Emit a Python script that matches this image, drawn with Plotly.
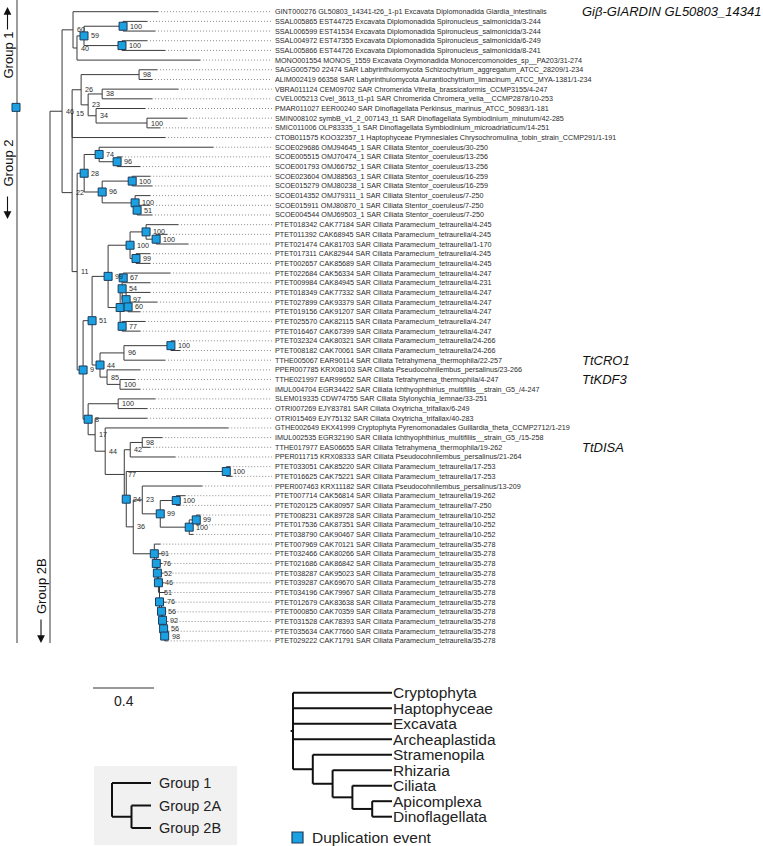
import plotly.graph_objects as go

# ---------------------------------------------------------------- data
leaf_labels = [
    "GINT000276 GL50803_14341-t26_1-p1 Excavata Diplomonadida Giardia_intestinalis",
    "SSAL005865 EST44725 Excavata Diplomonadida Spironucleus_salmonicida/3-244",
    "SSAL006599 EST41534 Excavata Diplomonadida Spironucleus_salmonicida/3-244",
    "SSAL004972 EST47355 Excavata Diplomonadida Spironucleus_salmonicida/6-249",
    "SSAL005866 EST44726 Excavata Diplomonadida Spironucleus_salmonicida/8-241",
    "MONO001554 MONOS_1559 Excavata Oxymonadida Monocercomonoides_sp__PA203/31-274",
    "SAGG005750 22474 SAR Labyrinthulomycota Schizochytrium_aggregatum_ATCC_28209/1-234",
    "ALIM002419 66358 SAR Labyrinthulomycota Aurantiochytrium_limacinum_ATCC_MYA-1381/1-234",
    "VBRA011124 CEM09702 SAR Chromerida Vitrella_brassicaformis_CCMP3155/4-247",
    "CVEL005213 Cvel_3613_t1-p1 SAR Chromerida Chromera_velia__CCMP2878/10-253",
    "PMAR011027 EER00240 SAR Dinoflagellata Perkinsus_marinus_ATCC_50983/1-181",
    "SMIN008102 symbB_v1_2_007143_t1 SAR Dinoflagellata Symbiodinium_minutum/42-285",
    "SMIC011006 OLP83335_1 SAR Dinoflagellata Symbiodinium_microadriaticum/14-251",
    "CTOB011575 KOO32357_1 Haptophyceae Prymnesiales Chrysochromulina_tobin_strain_CCMP291/1-191",
    "SCOE029686 OMJ94645_1 SAR Ciliata Stentor_coeruleus/30-250",
    "SCOE005515 OMJ70474_1 SAR Ciliata Stentor_coeruleus/13-256",
    "SCOE001793 OMJ66752_1 SAR Ciliata Stentor_coeruleus/13-256",
    "SCOE023604 OMJ88563_1 SAR Ciliata Stentor_coeruleus/16-259",
    "SCOE015279 OMJ80238_1 SAR Ciliata Stentor_coeruleus/16-259",
    "SCOE014352 OMJ79311_1 SAR Ciliata Stentor_coeruleus/7-250",
    "SCOE015911 OMJ80870_1 SAR Ciliata Stentor_coeruleus/7-250",
    "SCOE004544 OMJ69503_1 SAR Ciliata Stentor_coeruleus/7-250",
    "PTET018342 CAK77184 SAR Ciliata Paramecium_tetraurelia/4-245",
    "PTET011392 CAK68945 SAR Ciliata Paramecium_tetraurelia/4-245",
    "PTET021474 CAK81703 SAR Ciliata Paramecium_tetraurelia/1-170",
    "PTET017311 CAK82944 SAR Ciliata Paramecium_tetraurelia/4-245",
    "PTET002657 CAK85689 SAR Ciliata Paramecium_tetraurelia/4-245",
    "PTET022684 CAK56334 SAR Ciliata Paramecium_tetraurelia/4-247",
    "PTET009984 CAK84945 SAR Ciliata Paramecium_tetraurelia/4-231",
    "PTET018349 CAK77332 SAR Ciliata Paramecium_tetraurelia/4-247",
    "PTET027899 CAK93379 SAR Ciliata Paramecium_tetraurelia/4-247",
    "PTET019156 CAK91207 SAR Ciliata Paramecium_tetraurelia/4-247",
    "PTET025570 CAK82115 SAR Ciliata Paramecium_tetraurelia/4-247",
    "PTET016467 CAK67399 SAR Ciliata Paramecium_tetraurelia/4-247",
    "PTET032324 CAK80321 SAR Ciliata Paramecium_tetraurelia/24-266",
    "PTET008182 CAK70061 SAR Ciliata Paramecium_tetraurelia/24-266",
    "TTHE005067 EAR90114 SAR Ciliata Tetrahymena_thermophila/22-257",
    "PPER007785 KRX08103 SAR Ciliata Pseudocohnilembus_persalinus/23-266",
    "TTHE021997 EAR99652 SAR Ciliata Tetrahymena_thermophila/4-247",
    "IMUL004704 EGR34422 SAR Ciliata Ichthyophthirius_multifiliis__strain_G5_/4-247",
    "SLEM019335 CDW74755 SAR Ciliata Stylonychia_lemnae/33-251",
    "OTRI007269 EJY83781 SAR Ciliata Oxytricha_trifallax/6-249",
    "OTRI015469 EJY75132 SAR Ciliata Oxytricha_trifallax/40-283",
    "GTHE002649 EKX41999 Cryptophyta Pyrenomonadales Guillardia_theta_CCMP2712/1-219",
    "IMUL002535 EGR32190 SAR Ciliata Ichthyophthirius_multifiliis__strain_G5_/15-258",
    "TTHE017977 EAS06655 SAR Ciliata Tetrahymena_thermophila/19-262",
    "PPER011715 KRX08333 SAR Ciliata Pseudocohnilembus_persalinus/21-264",
    "PTET033051 CAK85220 SAR Ciliata Paramecium_tetraurelia/17-253",
    "PTET016625 CAK75221 SAR Ciliata Paramecium_tetraurelia/17-253",
    "PPER007463 KRX11182 SAR Ciliata Pseudocohnilembus_persalinus/13-209",
    "PTET007714 CAK56814 SAR Ciliata Paramecium_tetraurelia/19-262",
    "PTET020125 CAK80957 SAR Ciliata Paramecium_tetraurelia/7-250",
    "PTET008231 CAK89728 SAR Ciliata Paramecium_tetraurelia/10-252",
    "PTET017536 CAK87351 SAR Ciliata Paramecium_tetraurelia/10-252",
    "PTET038790 CAK90467 SAR Ciliata Paramecium_tetraurelia/10-252",
    "PTET007969 CAK70121 SAR Ciliata Paramecium_tetraurelia/35-278",
    "PTET032466 CAK80266 SAR Ciliata Paramecium_tetraurelia/35-278",
    "PTET021686 CAK86842 SAR Ciliata Paramecium_tetraurelia/35-278",
    "PTET038287 CAK95023 SAR Ciliata Paramecium_tetraurelia/35-278",
    "PTET039287 CAK69670 SAR Ciliata Paramecium_tetraurelia/35-278",
    "PTET034196 CAK79967 SAR Ciliata Paramecium_tetraurelia/35-278",
    "PTET012679 CAK83638 SAR Ciliata Paramecium_tetraurelia/35-278",
    "PTET000850 CAK70359 SAR Ciliata Paramecium_tetraurelia/35-278",
    "PTET031528 CAK78393 SAR Ciliata Paramecium_tetraurelia/35-278",
    "PTET035634 CAK77660 SAR Ciliata Paramecium_tetraurelia/35-278",
    "PTET029222 CAK71791 SAR Ciliata Paramecium_tetraurelia/35-278",
]

# Gene tree (Newick). Leaves Ln refer to leaf_labels[n-1];
# internal labels = bootstrap support, "*" marks a duplication event.
gene_tree = """
((
 ( L1:0.557,
   ( ( (L2:0.157,L3:0.210)100*:0.256,
       (L4:0.164,L5:0.282)100*:0.249 )59*:0.046,
     L6:0.807 )40:0.026
 )60:0.072,
 ( ( ( (L7:0.118,L8:0.085)98:0.380,
       ( (L9:0.498,L10:0.328)38:0.092,
         (L11:0.321,(L12:0.262,L13:0.085)100:0.334)34:0.052 )23:0.046
     )26:0.059,
     L14:0.610 )15:0.0,
   ( ( (L15:0.748,(L16:0.033,L17:0.151)96*:0.118)74*:0.098,
       ( (L18:0.118,L19:0.131)100*:0.197,
         (L20:0.098,(L21:0.085,L22:0.098)51*:0.013)100*:0.216 )96*:0.118
     )28*:0.046,
     ( ( ( ( (L23:0.210,(L24:0.072,L25:0.210)100*:0.066)100*:0.105,
             (L26:0.092,L27:0.092)99*:0.039 )100*:0.144,
           ( ( (L28:0.308,L29:0.177)67*:0.007,
               (L30:0.157,(L31:0.190,L32:0.079)60*:0.013)97*:0.026 )54*:0.013,
             (L33:0.151,L34:0.118)77*:0.013 )*:0.079
         )99*:0.105,
         ( ( (L35:0.026,L36:0.059)100*:0.308, L37:0.269 )96:0.157,
           ( L38:0.216, (L39:0.098,L40:0.131)100:0.085 )85:0.046
         )44*:0.052
       )51*:0.059,
       ( (L41:0.243,L42:0.190)100:0.197,
         ( L43:0.341,
           ( L44:0.807,
             ( ( (L45:0.131,L46:0.052)98:0.079, L47:0.295 )42:0.039,
               ( (L48:0.026,L49:0.039)100*:0.656,
                 ( ( L50:0.393,
                     ( (L51:0.059,L52:0.026)100*:0.105,
                       ( (L53:0.026,L54:0.026)99*:0.046, L55:0.026 )100*:0.190
                     )99*:0.118
                   )23:0.059,
                   ( L56:0.039,
                     ( L57:0.039,
                       ( L58:0.033,
                         ( L59:0.033,
                           ( L60:0.033,
                             ( L61:0.039,
                               ( L62:0.033,
                                 ( L63:0.020,
                                   ( L64:0.026,
                                     (L65:0.026,L66:0.020)98*:0.007
                                   )56*:0.007
                                 )92*:0.007
                               )56*:0.013
                             )76*:0.0
                           )51:0.007
                         )46*:0.007
                       )52*:0.007
                     )76*:0.013
                   )91*:0.138
                 )36:0.046
               )24*:0.013
             )77:0.125
           )44:0.066
         )17:0.046
       )8*:0.033
     )9*:0.039
   )11:0.033
 )22:0.066
)46:0.079);
"""

gene_names = ["Giβ-GIARDIN GL50803_14341", "TtCRO1", "TtKDF3", "TtDISA"]
gene_name_leaf = [1, 37, 39, 46]

group_names = ["Group 1", "Group 2", "Group 2B"]

scale_len = 0.4
scale_text = "0.4"

species_tree = "(Cryptophyta,Haptophyceae,Excavata,Archeaplastida,(Stramenopila,(Rhizaria,(Ciliata,(Apicomplexa,Dinoflagellata)))));"
group_tree = "(Group 1,(Group 2A,Group 2B));"
dup_legend_text = "Duplication event"

# ---------------------------------------------------------------- helpers
def parse_newick(s):
    s = "".join(ch for ch in s if ch not in "\n\r\t")
    s = s.strip().rstrip(";")
    pos = 0

    def read():
        nonlocal pos
        node = {"children": [], "name": "", "len": 0.0}
        while s[pos] == " ":
            pos += 1
        if s[pos] == "(":
            pos += 1
            while True:
                node["children"].append(read())
                while s[pos] == " ":
                    pos += 1
                if s[pos] == ",":
                    pos += 1
                else:
                    pos += 1
                    break
        j = pos
        while pos < len(s) and s[pos] not in ":,)":
            pos += 1
        node["name"] = s[j:pos].strip()
        if pos < len(s) and s[pos] == ":":
            pos += 1
            j = pos
            while pos < len(s) and s[pos] not in ",)":
                pos += 1
            node["len"] = float(s[j:pos])
        return node

    return read()


def layout_phylo(node, x0=0.0, counter=None):
    if counter is None:
        counter = [0]
    node["x"] = x0 + node["len"]
    if not node["children"]:
        node["y"] = counter[0]
        counter[0] += 1
    else:
        for c in node["children"]:
            layout_phylo(c, node["x"], counter)
        node["y"] = (node["children"][0]["y"] + node["children"][-1]["y"]) / 2
    return node


def layout_clado(node, depth=0, counter=None):
    if counter is None:
        counter = [0]
    node["x"] = depth
    if not node["children"]:
        node["y"] = counter[0]
        counter[0] += 1
    else:
        for c in node["children"]:
            layout_clado(c, depth + 1, counter)
        node["y"] = (node["children"][0]["y"] + node["children"][-1]["y"]) / 2
    return node


def max_depth(node):
    if not node["children"]:
        return node["x"]
    return max(max_depth(c) for c in node["children"])


def align_tips(node, xm):
    if not node["children"]:
        node["x"] = xm
    for c in node["children"]:
        align_tips(c, xm)


def walk(node):
    yield node
    for c in node["children"]:
        yield from walk(c)


def segments(node, xs, ys):
    if node["children"]:
        xs += [node["x"], node["x"], None]
        ys += [node["children"][0]["y"], node["children"][-1]["y"], None]
        for c in node["children"]:
            xs += [node["x"], c["x"], None]
            ys += [c["y"], c["y"], None]
            segments(c, xs, ys)


# ---------------------------------------------------------------- styles / geometry
W, H = 763, 846
FONT = "Arial, Liberation Sans, sans-serif"
PX_X = 152.5        # pixels per substitution unit
ROOT_PX = 50.0      # pixel position of tree root
PX_Y = 9.68         # pixels per leaf row
TOP_PX = 11.7       # pixel position of first leaf row

def ux(px):  # pixel -> tree x units
    return (px - ROOT_PX) / PX_X

def uy(px):  # pixel -> leaf row units
    return (px - TOP_PX) / PX_Y

BRANCH_COL = "#3a3a3a"
DUP_FILL = "#1BA1E2"
DUP_EDGE = "#1d3b5a"
TEXT_COL = "#2a2a2a"

# ---------------------------------------------------------------- gene tree
root = layout_phylo(parse_newick(gene_tree))
nodes = list(walk(root))
leaves = [n for n in nodes if not n["children"]]
leaf_y = {int(n["name"][1:]): n["y"] for n in leaves}

bx, by = [], []
segments(root, bx, by)

fig = go.Figure()

# decorations on the left (group brackets)
a_node = root["children"][0]
fig.add_trace(go.Scatter(
    x=[ux(17), ux(17), None, 0, 0],
    y=[uy(0), uy(643), None, a_node["y"], uy(643)],
    mode="lines", line=dict(color=BRANCH_COL, width=1), hoverinfo="skip"))

# leader lines
lx, ly = [], []
for n in leaves:
    lx += [n["x"], ux(272), None]
    ly += [n["y"], n["y"], None]
fig.add_trace(go.Scatter(x=lx, y=ly, mode="lines",
                         line=dict(color="#8a8a8a", width=1, dash="1px,2px"),
                         hoverinfo="skip"))

# branches
fig.add_trace(go.Scatter(x=bx, y=by, mode="lines",
                         line=dict(color=BRANCH_COL, width=1), hoverinfo="skip"))

# duplication squares
dups = [n for n in nodes if n["children"] and n["name"].endswith("*")]
fig.add_trace(go.Scatter(
    x=[n["x"] for n in dups] + [ux(16)],
    y=[n["y"] for n in dups] + [a_node["y"] - 0.4],
    mode="markers",
    marker=dict(symbol="square", size=8, color=DUP_FILL,
                line=dict(color=DUP_EDGE, width=1)),
    hoverinfo="skip"))

annotations = []
# support values
for n in nodes:
    if not n["children"]:
        continue
    sup = n["name"].rstrip("*")
    if not sup:
        continue
    off = 6 if n["name"].endswith("*") else 3
    annotations.append(dict(x=n["x"] + off / PX_X, y=n["y"], text=sup,
                            xanchor="left", yanchor="middle", showarrow=False,
                            font=dict(size=7.2, color=TEXT_COL, family=FONT),
                            borderpad=0, xref="x", yref="y"))
# leaf labels
for i, lab in enumerate(leaf_labels, start=1):
    annotations.append(dict(x=ux(274), y=leaf_y[i], text=lab, xanchor="left",
                            yanchor="middle", showarrow=False, borderpad=0,
                            font=dict(size=7.2, color=TEXT_COL, family=FONT),
                            xref="x", yref="y"))
# gene names
for name, li in zip(gene_names, gene_name_leaf):
    annotations.append(dict(x=ux(580), y=leaf_y[li], text="<i>%s</i>" % name,
                            xanchor="left", yanchor="middle", showarrow=False,
                            font=dict(size=13, color="#111", family=FONT),
                            xref="x", yref="y"))

# group labels (rotated) and arrows
annotations += [
    dict(x=ux(7.5), y=uy(55), text=group_names[0], textangle=-90, showarrow=False,
         font=dict(size=13, color="#111", family=FONT), xref="x", yref="y"),
    dict(x=ux(7.5), y=uy(163), text=group_names[1], textangle=-90, showarrow=False,
         font=dict(size=13, color="#111", family=FONT), xref="x", yref="y"),
    dict(x=ux(41), y=uy(586), text=group_names[2], textangle=-90, showarrow=False,
         font=dict(size=13, color="#111", family=FONT), xref="x", yref="y"),
    dict(x=ux(7.5), y=uy(7), ax=0, ay=24, text="", showarrow=True, arrowhead=2,
         arrowsize=1.4, arrowwidth=1.1, arrowcolor="#111", xref="x", yref="y"),
    dict(x=ux(7.5), y=uy(219), ax=0, ay=-24, text="", showarrow=True, arrowhead=2,
         arrowsize=1.4, arrowwidth=1.1, arrowcolor="#111", xref="x", yref="y"),
    dict(x=ux(41), y=uy(643), ax=0, ay=-25, text="", showarrow=True, arrowhead=2,
         arrowsize=1.4, arrowwidth=1.1, arrowcolor="#111", xref="x", yref="y"),
]

# scale bar
sb_x0 = ux(93)
fig.add_trace(go.Scatter(x=[sb_x0, sb_x0 + scale_len], y=[uy(688), uy(688)],
                         mode="lines", line=dict(color="#333", width=1.2),
                         hoverinfo="skip"))
annotations.append(dict(x=sb_x0 + scale_len / 2, y=uy(701), text=scale_text,
                        showarrow=False, font=dict(size=14, color="#222", family=FONT),
                        xref="x", yref="y"))

# ---------------------------------------------------------------- species tree (x2/y2)
SP_X0, SP_DX, SP_Y0, SP_DY = 293.0, 19.8, 692.7, 15.5
sp = layout_clado(parse_newick(species_tree))
align_tips(sp, max_depth(sp))
sx, sy = [], []
segments(sp, sx, sy)
sx += [None, -0.12, 0]
sy += [None, sp["y"], sp["y"]]
fig.add_trace(go.Scatter(x=sx, y=sy, xaxis="x2", yaxis="y2", mode="lines",
                         line=dict(color="#111", width=2), hoverinfo="skip"))
for n in walk(sp):
    if not n["children"]:
        annotations.append(dict(x=n["x"] + 0.0, y=n["y"], text=n["name"],
                                xanchor="left", yanchor="middle", showarrow=False,
                                font=dict(size=15.5, color="#222", family=FONT),
                                borderpad=0, xref="x2", yref="y2"))
fig.add_trace(go.Scatter(x=[(297.5 - SP_X0) / SP_DX], y=[(837.5 - SP_Y0) / SP_DY],
                         xaxis="x2", yaxis="y2", mode="markers",
                         marker=dict(symbol="square", size=11, color=DUP_FILL,
                                     line=dict(color=DUP_EDGE, width=1.2)),
                         hoverinfo="skip"))
annotations.append(dict(x=(311 - SP_X0) / SP_DX, y=(837.5 - SP_Y0) / SP_DY,
                        text=dup_legend_text, xanchor="left", yanchor="middle",
                        showarrow=False, font=dict(size=15.5, color="#222", family=FONT),
                        borderpad=0, xref="x2", yref="y2"))

# ---------------------------------------------------------------- group legend tree (x3/y3)
GP_X0, GP_DX, GP_Y0, GP_DY = 112.0, 19.5, 783.0, 22.5
gp = layout_clado(parse_newick(group_tree))
align_tips(gp, max_depth(gp))
gx, gy = [], []
segments(gp, gx, gy)
fig.add_trace(go.Scatter(x=gx, y=gy, xaxis="x3", yaxis="y3", mode="lines",
                         line=dict(color="#111", width=2), hoverinfo="skip"))
for n in walk(gp):
    if not n["children"]:
        annotations.append(dict(x=n["x"] + 0.3, y=n["y"], text=n["name"],
                                xanchor="left", yanchor="middle", showarrow=False,
                                font=dict(size=14.5, color="#222", family=FONT),
                                xref="x3", yref="y3"))

shapes = [dict(type="rect", xref="paper", yref="paper",
               x0=94 / W, x1=237 / W, y0=1 - 845 / H, y1=1 - 766 / H,
               fillcolor="#f1f1f1", line=dict(width=0), layer="below")]

ax_common = dict(visible=False, fixedrange=True)
fig.update_layout(
    width=W, height=H, margin=dict(l=0, r=0, t=0, b=0),
    paper_bgcolor="white", plot_bgcolor="rgba(0,0,0,0)", showlegend=False,
    hovermode=False,
    xaxis=dict(range=[ux(0), ux(W)], domain=[0, 1], **ax_common),
    yaxis=dict(range=[uy(H), uy(0)], domain=[0, 1], **ax_common),
    xaxis2=dict(range=[-SP_X0 / SP_DX, (W - SP_X0) / SP_DX], overlaying="x",
                anchor="y2", **ax_common),
    yaxis2=dict(range=[(H - SP_Y0) / SP_DY, -SP_Y0 / SP_DY], overlaying="y",
                anchor="x2", **ax_common),
    xaxis3=dict(range=[-GP_X0 / GP_DX, (W - GP_X0) / GP_DX], overlaying="x",
                anchor="y3", **ax_common),
    yaxis3=dict(range=[(H - GP_Y0) / GP_DY, -GP_Y0 / GP_DY], overlaying="y",
                anchor="x3", **ax_common),
    annotations=annotations, shapes=shapes,
)

fig.write_html("out.html", config={"displayModeBar": False, "staticPlot": True},
               post_script="document.body.style.margin='0px';"
                           "document.body.style.overflow='hidden';")
